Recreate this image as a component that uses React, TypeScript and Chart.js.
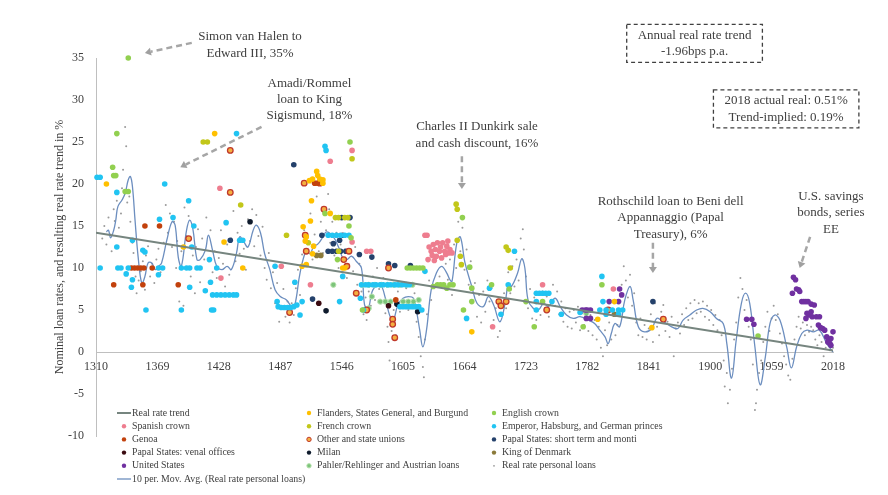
import { useEffect, useRef } from "react";
import { Chart, registerables } from "chart.js";

Chart.register(...registerables);

type Pt = [number, number];

const xTicks = [1310, 1369, 1428, 1487, 1546, 1605, 1664, 1723, 1782, 1841, 1900, 1959, 2018];
const yTitle = "Nominal loan rates, and resulting real rate trend in %";

const trendLine: Pt[] = [[1310, 14.2], [2018, 0.19]];

const flanders: Pt[] = [
  [1424, 26], [1320, 20], [1433, 13.1], [1394, 12.5], [1451, 10],
  [1522, 21.5], [1523, 21], [1518, 20.6], [1525, 20.6], [1528, 20.5], [1515, 20.4], [1528, 20.1],
  [1517, 18], [1535, 16.5], [1516, 15.6], [1509, 14.9], [1512, 13.7], [1511, 13.2], [1519, 12.6],
  [1518, 11.7], [1508, 10.2], [1512, 10.4], [1547, 10], [1549, 10],
  [1671, 2.4], [1792, 3.9], [1808, 6], [1844, 2.9],
];

const englishCrown: Pt[] = [
  [1341, 35], [1330, 26], [1326, 22], [1327, 21], [1329, 21], [1338, 19.1], [1341, 19.1],
  [1554, 25], [1530, 16.5], [1553, 15], [1555, 13.6], [1542, 11], [1566, 5],
  [1609, 10], [1612, 10], [1615, 10], [1618, 10], [1621, 10], [1624, 10],
  [1634, 7.8], [1638, 8], [1641, 8], [1644, 8], [1647, 7.6], [1650, 8], [1653, 8],
  [1662, 16], [1669, 10.1], [1671, 7.6], [1671, 6], [1663, 5], [1690, 8], [1707, 7.5],
  [1723, 6], [1739, 6], [1731, 3], [1778, 3], [1796, 8], [1946, 1.9],
];

const spanishCrown: Pt[] = [
  [1429, 19.5], [1430, 8.8], [1556, 24], [1535, 22.7], [1516, 8], [1488, 10.2], [1556, 13.1],
  [1570, 12], [1574, 12],
  [1626, 13.9], [1628, 13.9], [1630, 12.5], [1632, 12], [1633, 11.5], [1634, 12.8], [1636, 12.2],
  [1637, 11.4], [1638, 13], [1640, 12], [1641, 12.5], [1642, 11.2], [1643, 13], [1645, 12],
  [1646, 11.6], [1647, 12.6], [1648, 13.2], [1649, 11.8], [1650, 12.2], [1652, 11.8], [1629, 11],
  [1635, 10.9], [1691, 3], [1739, 8], [1807, 7.5],
];

const frenchCrown: Pt[] = [
  [1413, 25], [1417, 25], [1449, 17.5], [1556, 23],
  [1540, 16], [1543, 16], [1549, 16], [1552, 16], [1493, 13.9], [1514, 13], [1543, 12],
  [1656, 17.6], [1657, 17], [1657, 13.3], [1660, 11.4], [1661, 10.4],
  [1704, 12.5], [1706, 12.1], [1708, 10],
];

const emperor: Pt[] = [
  [1311, 20.8], [1314, 20.8], [1330, 19], [1376, 20], [1399, 18], [1445, 26],
  [1371, 15.8], [1384, 16], [1404, 15], [1435, 15.4], [1448, 13.3], [1451, 13.3], [1402, 12.5],
  [1330, 12.5], [1345, 13.3], [1355, 12.1], [1357, 11.9], [1419, 11],
  [1314, 10], [1331, 10], [1334, 10], [1341, 10], [1370, 10], [1374, 10], [1392, 10], [1397, 10],
  [1400, 10], [1407, 10], [1410, 10], [1426, 10], [1482, 10.2],
  [1339, 9.3], [1370, 9.2], [1420, 8.3], [1345, 8.6], [1344, 7.7], [1400, 7.7], [1415, 7.3],
  [1422, 6.8], [1426, 6.8], [1430, 6.8], [1434, 6.8], [1438, 6.8], [1442, 6.8], [1445, 6.8],
  [1358, 5], [1392, 5], [1421, 5], [1423, 5],
  [1484, 6], [1485, 5.4], [1488, 5.3], [1491, 5.3], [1494, 5.3], [1497, 5.3], [1500, 5.4],
  [1503, 5.6], [1506, 4.4], [1508, 6], [1501, 8.3],
  [1530, 24.5], [1531, 24], [1533, 13.9], [1537, 13.9], [1541, 13.9], [1545, 13.9], [1549, 13.9],
  [1553, 13.9], [1547, 9], [1544, 6], [1564, 6.4], [1567, 5],
  [1565, 8], [1569, 8], [1572, 8], [1576, 8], [1579, 8], [1583, 8], [1586, 8], [1590, 8],
  [1593, 8], [1597, 8], [1600, 8], [1604, 8], [1608, 8], [1611, 8],
  [1602, 5.4], [1605, 5.4], [1608, 5.4], [1611, 5.4], [1614, 5.4], [1617, 5.4], [1620, 5.4],
  [1623, 5], [1626, 9.6],
  [1666, 4], [1688, 7.6], [1699, 4.5], [1706, 8], [1712, 12],
  [1733, 7], [1736, 7], [1739, 7], [1742, 7], [1745, 7], [1733, 6], [1733, 5], [1748, 6],
  [1757, 4.5], [1775, 4.7],
  [1796, 9], [1794, 5], [1800, 5], [1806, 5], [1812, 5], [1816, 5], [1800, 4.5], [1812, 4.5], [1797, 6],
];

const genoa: Pt[] = [
  [1357, 15], [1371, 15], [1344, 10], [1347, 10], [1350, 10], [1353, 10], [1356, 10], [1364, 10],
  [1327, 8], [1355, 8], [1389, 8], [1520, 20.1], [1523, 20.1], [1598, 6.2],
];

const otherUnions: Pt[] = [
  [1439, 24], [1439, 19], [1399, 13.5], [1510, 20.1], [1525, 20.1], [1529, 17], [1511, 13.9],
  [1512, 12], [1553, 12], [1548, 11], [1551, 10.2], [1496, 4.7], [1560, 7], [1570, 5], [1591, 10],
  [1595, 3.9], [1595, 3.3], [1597, 1.7], [1697, 6], [1699, 5.5], [1704, 6], [1743, 5], [1802, 5],
  [1855, 3.9],
];

const papalShort: Pt[] = [
  [1439, 13.3], [1500, 22.3], [1527, 13.9], [1538, 12.9], [1546, 16], [1554, 16], [1547, 13.9],
  [1544, 13.3], [1533, 12], [1537, 12], [1541, 12], [1545, 12], [1550, 12], [1563, 11.6],
  [1575, 11.3], [1518, 6.3], [1591, 10.5], [1597, 10.3], [1612, 10.3], [1845, 6],
];

const papalVenal: Pt[] = [[1524, 5.8], [1591, 5.5]];

const milan: Pt[] = [[1458, 15.5], [1531, 4.9], [1599, 5.7], [1619, 4.8]];

const kingDenmark: Pt[] = [[1522, 11.5], [1526, 11.5], [1808, 4.5]];

const unitedStates: Pt[] = [
  [1777, 5], [1780, 5], [1782, 5], [1785, 5], [1781, 4], [1785, 4], [1813, 7.5], [1815, 6.8],
  [1803, 6], [1812, 6], [1935, 3.9], [1940, 3.9], [1942, 3.3],
  [1980, 8.9], [1982, 8.6], [1979, 7], [1983, 7.5], [1985, 7.4], [1986, 7.2], [1988, 6], [1990, 6],
  [1992, 6], [1994, 6], [1997, 5.7], [2000, 5.6], [1993, 4.6], [1995, 4.4], [1997, 4.8], [1998, 4.2],
  [1992, 4], [2002, 4.2], [2005, 4.2], [2004, 3.2], [2006, 2.9], [2008, 2.8], [2010, 2.6], [2018, 2.4],
  [2012, 1.8], [2013, 1.2], [2014, 1.4], [2016, 1.6], [2015, 1], [2016, 0.8],
];

const pahler: Pt[] = [
  [1538, 8], [1566, 8], [1572, 8], [1578, 8], [1584, 8], [1590, 8], [1596, 8], [1602, 8], [1608, 8],
  [1614, 8], [1583, 6], [1588, 6], [1593, 6], [1605, 6], [1610, 6], [1615, 6], [1620, 6.2],
  [1572, 5.2], [1575, 6.6], [1781, 4.6],
];

const personalLoans: Pt[] = [
  [1316, 13.5], [1318, 15], [1320, 12.8], [1322, 16], [1324, 14], [1325, 12], [1327, 17], [1328, 15.6],
  [1330, 18], [1332, 14.8], [1334, 16.5], [1335, 19.5], [1336, 21.7], [1338, 26.8], [1339, 24.5],
  [1340, 17.8], [1342, 18.5], [1343, 15.5], [1345, 13], [1346, 11.8], [1348, 9], [1349, 7], [1351, 8.5],
  [1353, 9.6], [1355, 10.8], [1357, 7.4], [1358, 11.5], [1360, 12.6], [1362, 9], [1364, 10.5],
  [1366, 8.2], [1368, 11], [1370, 12.3], [1372, 9.5], [1375, 13], [1377, 17.5], [1379, 14.2],
  [1381, 16.5], [1383, 12.5], [1385, 15.5], [1387, 10], [1388, 13.2], [1390, 6], [1392, 12],
  [1394, 5.5], [1395, 17.2], [1397, 13.8], [1399, 16.2], [1401, 9], [1403, 11.5], [1405, 7],
  [1406, 12.5], [1408, 14.6], [1410, 8.3], [1412, 13.5], [1414, 11], [1416, 16], [1418, 10.8],
  [1420, 14.5], [1422, 9.5], [1424, 12], [1426, 8.8], [1428, 11.2], [1430, 14.5], [1432, 10.5],
  [1434, 7.8], [1436, 12.8], [1438, 9.2], [1440, 13.5], [1442, 16.8], [1444, 10.8], [1446, 14.2],
  [1448, 11.7], [1450, 15], [1452, 12.3], [1454, 9.8], [1456, 15.8], [1458, 13.2], [1460, 17],
  [1462, 12.6], [1464, 16.3], [1466, 13.8], [1468, 11.5], [1470, 14.9], [1472, 10], [1474, 8.6],
  [1476, 11.8], [1478, 7.6], [1480, 9.5], [1482, 5.8], [1484, 8.2], [1486, 3.6], [1488, 5.2],
  [1490, 7.5], [1492, 4.2], [1494, 6], [1496, 3.5], [1498, 5.8], [1500, 4.4], [1502, 7.6],
  [1504, 9.8], [1506, 6.8], [1508, 11.6], [1510, 14.5], [1512, 10.5], [1514, 13.2], [1516, 16.5],
  [1518, 11], [1520, 14], [1522, 18.5], [1524, 12], [1526, 15.5], [1528, 11.8], [1530, 17],
  [1531, 14.5], [1533, 18.8], [1534, 17], [1535, 13], [1537, 15.5], [1539, 11.5], [1541, 14.2],
  [1543, 10], [1545, 12.8], [1547, 9.5], [1549, 12.2], [1551, 8.8], [1553, 11.8], [1555, 13.6],
  [1557, 9.6], [1559, 12.5], [1561, 8], [1563, 10.5], [1565, 7.2], [1567, 4.5], [1569, 6.5],
  [1570, 3.8], [1572, 7.2], [1574, 5.5], [1576, 9], [1578, 6.2], [1580, 10], [1582, 7.5],
  [1584, 5.8], [1586, 8.8], [1588, 4.6], [1590, 3], [1591, 1.2], [1592, -1], [1594, 2.5],
  [1596, 5], [1598, 2], [1600, 7.2], [1602, 4.8], [1604, 8], [1606, 5.5], [1608, 7.6], [1610, 5],
  [1612, 8.2], [1614, 5.8], [1616, 7], [1618, 3.6], [1620, 1.8], [1622, -0.5], [1624, -1.8],
  [1625, -3], [1626, 1.5], [1628, 4.5], [1630, 8.5], [1632, 6.2], [1634, 10.8], [1636, 8],
  [1638, 11.5], [1640, 9], [1642, 12], [1644, 7.8], [1646, 10.5], [1648, 8.6], [1650, 11],
  [1652, 6.8], [1654, 12.8], [1656, 10], [1658, 15.5], [1660, 12], [1662, 14.8], [1664, 9.8],
  [1666, 12.2], [1668, 8], [1670, 10.8], [1672, 6], [1674, 8.2], [1676, 4.2], [1678, 6.8],
  [1680, 3.5], [1682, 7.2], [1684, 4.8], [1686, 8.5], [1688, 6], [1690, 7.6], [1692, 3.8],
  [1694, 5.2], [1696, 1.8], [1698, 2.5], [1700, 4.5], [1702, 7], [1704, 5.2], [1706, 9.5],
  [1708, 7], [1710, 10.2], [1712, 7.8], [1714, 11], [1716, 8.5], [1718, 13.5], [1720, 14.6],
  [1721, 12.2], [1723, 9], [1725, 5.2], [1727, 7.5], [1729, 4], [1731, 6.5], [1733, 3.8],
  [1735, 5.8], [1737, 4.4], [1739, 7.2], [1741, 5], [1743, 6.6], [1745, 4.2], [1747, 6.2],
  [1749, 8], [1751, 5.5], [1753, 7.2], [1755, 4.5], [1757, 6], [1759, 3.6], [1761, 5.2], [1763, 3],
  [1765, 4.8], [1767, 2.8], [1769, 5], [1771, 3.5], [1773, 5.4], [1775, 2.6], [1777, 4.6],
  [1779, 3.2], [1781, 5.2], [1783, 2.5], [1785, 4.4], [1787, 2], [1789, 3.8], [1791, 1.5],
  [1793, 3], [1795, 0.5], [1797, -0.5], [1799, 2.6], [1801, 0.8], [1803, 3.5], [1805, 1.5],
  [1807, 4.5], [1809, 2], [1811, 3.2], [1813, 6], [1815, 8], [1817, 10.2], [1819, 8.5],
  [1821, 6.5], [1823, 9.2], [1825, 5.5], [1827, 7], [1829, 3.5], [1831, 2], [1833, 4], [1835, 1.8],
  [1837, 3.2], [1839, 1.5], [1841, 2.8], [1843, 4.5], [1845, 1.2], [1847, 5.8], [1849, 3],
  [1851, 2], [1853, 4.8], [1855, 5.6], [1857, 2.5], [1859, 3.6], [1861, 1.8], [1863, 4.2],
  [1865, -0.5], [1867, 2.8], [1869, 3.5], [1871, 2.2], [1873, 4.5], [1875, 3.2], [1877, 5.2],
  [1879, 3.8], [1881, 5.8], [1883, 4], [1885, 6.2], [1887, 4.6], [1889, 5.8], [1891, 4.8],
  [1893, 6], [1895, 4.2], [1897, 5.5], [1899, 3.8], [1901, 5], [1903, 3.2], [1905, 4.4],
  [1907, 2.6], [1909, 3.8], [1911, 2], [1913, -1], [1914, -4.1], [1916, -2.5], [1917, -6.1],
  [1919, -4.5], [1921, -2], [1923, 1.5], [1925, 3.5], [1927, 6.5], [1929, 8.8], [1931, 7.5],
  [1933, 5], [1935, 6.2], [1937, 3], [1939, 1.5], [1941, -1.5], [1943, -6.9], [1944, -6.1],
  [1945, -4.5], [1947, -2.5], [1949, -1], [1951, 1.2], [1953, 3], [1955, 4.8], [1957, 2.5],
  [1959, 4], [1961, 5.5], [1963, 3.8], [1965, 4.5], [1967, 2.2], [1969, 1], [1971, -0.5],
  [1973, -1.5], [1975, -2.8], [1977, -3.3], [1979, -0.8], [1981, 1.5], [1983, 3], [1985, 4.2],
  [1987, 2.8], [1989, 3.5], [1991, 2], [1993, 3.2], [1995, 2.4], [1997, 3], [1999, 2.6],
  [2001, 1.5], [2003, 0.8], [2005, 2], [2007, 1.2], [2009, -0.5], [2011, 0.5], [2013, 1],
  [2015, 0.2], [2017, 0.8], [2018, 0.51],
];

const movingAvg: Pt[] = [
  [1320, 14.3], [1322, 14.5], [1324, 13.6], [1327, 14.5], [1329, 15.7], [1331, 17.3], [1335, 18.1],
  [1338, 18.9], [1341, 20.5], [1343, 20.9], [1345, 19.7], [1347.5, 15.7], [1350.5, 11.3], [1354, 8.2],
  [1357, 9], [1360, 10.6], [1363.5, 10.6], [1367, 9.8], [1370, 10.2], [1373, 10.6], [1378, 13.3],
  [1383, 15.5], [1386, 15.1], [1389, 11.3], [1392, 10.2], [1397, 14.5], [1400, 15.7], [1403, 14.7],
  [1407, 11], [1410, 11], [1415, 12.1], [1418, 13.9], [1422, 12.1], [1426, 10.2], [1431, 9.8],
  [1436, 10.2], [1440, 9.8], [1445, 11.8], [1448, 13.7], [1452, 13.1], [1456, 12.5], [1461, 14.5],
  [1464, 15.1], [1468, 14.2], [1472, 11.7], [1477, 9.8], [1482, 7.4], [1487, 6.6], [1493, 6.2],
  [1498, 5.4], [1501, 5.6], [1506, 9.4], [1512, 12.1], [1515.5, 11.7], [1519, 12.5], [1523.5, 12.9],
  [1528, 13.7], [1531.5, 14.3], [1538, 13.7], [1543, 12.5], [1547.5, 11.1], [1551, 11], [1555.5, 11.4],
  [1560, 10.8], [1565, 10], [1568, 5.6], [1571.5, 5.2], [1576, 7.4], [1583, 8], [1588, 6.4],
  [1592, 4.4], [1595.5, 3.8], [1600, 5.6], [1605, 6.4], [1610, 6.6], [1615, 6.4], [1618, 4.8],
  [1621, 2.6], [1624, 0.6], [1627.5, 2.6], [1632, 7.4], [1637, 9.4], [1642, 10.2], [1647, 9.4],
  [1650, 8.6], [1652, 8.4], [1656.5, 12.9], [1660, 13.7], [1664.5, 10.6], [1671, 7.8], [1676, 5.8],
  [1682, 5.4], [1687, 6.6], [1692, 5.6], [1698, 3.6], [1703, 5.8], [1706, 8], [1709, 7.8],
  [1715, 9.4], [1719, 11.1], [1722, 10], [1725, 6.2], [1730, 5.2], [1735, 5], [1740, 5.8],
  [1744.5, 5.4], [1751, 6.4], [1756, 5.4], [1762, 4.4], [1768.5, 4], [1775, 4.2], [1783, 3.8],
  [1789, 3.4], [1794, 2.6], [1799, 1.8], [1802, 1], [1805, 2.2], [1808.5, 3.4], [1813, 3],
  [1818, 6.2], [1823, 7.8], [1826, 6.2], [1831, 3], [1837, 2.4], [1844, 2.8], [1848.5, 4],
  [1853, 3.8], [1858, 3.4], [1863, 3], [1869, 2.8], [1874, 3.8], [1880.5, 4.4], [1887, 5],
  [1893, 5.2], [1900, 4.8], [1906, 4], [1912.5, 3.4], [1916, 1], [1920.5, -3.1], [1925, 1.4],
  [1930, 5.8], [1934, 7], [1938, 5.8], [1943, 0.6], [1948, -3.9], [1953, -0.6], [1957.5, 3.4],
  [1962, 4.4], [1967, 3.8], [1973.5, 0.6], [1978, -1.9], [1983, 0.6], [1988, 2.2], [1993, 2.6],
  [1999, 2.4], [2005, 2.6], [2012, 1], [2018, 0],
];

const notes = [
  { lines: ["Simon van Halen to", "Edward III, 35%"], at: [1458, 37.5], from: [1402, 36.8], to: [1357, 35.6] },
  { lines: ["Amadi/Rommel", "loan to King", "Sigismund, 18%"], at: [1515, 32], from: [1469, 26.8], to: [1391, 22] },
  { lines: ["Charles II Dunkirk sale", "and cash discount, 16%"], at: [1676, 26.8], from: [1661.5, 23.3], to: [1661.5, 19.4] },
  { lines: ["Rothschild loan to Beni dell", "Appannaggio (Papal", "Treasury), 6%"], at: [1862, 17.9], from: [1845, 13], to: [1845, 9.4] },
  { lines: ["U.S. savings", "bonds, series", "EE"], at: [2016, 18.5], from: [1996, 13.7], to: [1986, 10] },
];

const boxes = [
  { lines: ["Annual real rate trend", "-1.96bps p.a."], at: [1885, 37.7] },
  { lines: ["2018 actual real: 0.51%", "Trend-implied: 0.19%"], at: [1973, 29.9] },
];

const textColor = "#404040";
const font = "'Liberation Serif', 'Times New Roman', serif";
const legendColumns = [132, 317, 502];
const legendTop = 413;
const legendRow = 13.2;

const pts = (d: Pt[]) => d.map(([x, y]) => ({ x, y }));

const dots = (label: string, data: Pt[], color: string, extra: Record<string, unknown> = {}) => ({
  label,
  data: pts(data),
  backgroundColor: color,
  borderColor: color,
  pointRadius: 2.8,
  pointBorderWidth: 0,
  clip: false,
  order: 2,
  ...extra,
});

const annotationPlugin = {
  id: "notes",
  afterDraw(chart: any) {
    const { ctx, scales } = chart;
    const X = (v: number) => scales.x.getPixelForValue(v);
    const Y = (v: number) => scales.y.getPixelForValue(v);
    ctx.save();
    ctx.font = `13px ${font}`;
    ctx.fillStyle = textColor;
    ctx.textAlign = "center";
    ctx.textBaseline = "middle";
    notes.forEach((n) => {
      n.lines.forEach((t, i) => ctx.fillText(t, X(n.at[0]), Y(n.at[1]) + i * 16.3));
      const x1 = X(n.from[0]), y1 = Y(n.from[1]), x2 = X(n.to[0]), y2 = Y(n.to[1]);
      const ang = Math.atan2(y2 - y1, x2 - x1);
      const hx = x2 - 6 * Math.cos(ang), hy = y2 - 6 * Math.sin(ang);
      ctx.strokeStyle = "#a6a6a6";
      ctx.lineWidth = 2.5;
      ctx.setLineDash([6, 4]);
      ctx.beginPath();
      ctx.moveTo(x1, y1);
      ctx.lineTo(hx, hy);
      ctx.stroke();
      ctx.setLineDash([]);
      ctx.fillStyle = "#a0a0a0";
      ctx.beginPath();
      ctx.moveTo(x2, y2);
      ctx.lineTo(hx + 4 * Math.sin(ang), hy - 4 * Math.cos(ang));
      ctx.lineTo(hx - 4 * Math.sin(ang), hy + 4 * Math.cos(ang));
      ctx.closePath();
      ctx.fill();
      ctx.fillStyle = textColor;
    });
    boxes.forEach((b) => {
      const cx = X(b.at[0]), cy = Y(b.at[1]);
      const w = Math.max(...b.lines.map((t) => ctx.measureText(t).width)) + 22;
      b.lines.forEach((t, i) => ctx.fillText(t, cx, cy + i * 16.5));
      ctx.strokeStyle = "#404040";
      ctx.lineWidth = 1.3;
      ctx.setLineDash([4, 3]);
      ctx.strokeRect(cx - w / 2, cy - 11, w, 38);
      ctx.setLineDash([]);
    });
    ctx.restore();
  },
};

const legendPlugin = {
  id: "gridLegend",
  afterDraw(chart: any) {
    const ctx = chart.ctx;
    ctx.save();
    ctx.font = `9.8px ${font}`;
    ctx.textBaseline = "middle";
    ctx.textAlign = "left";
    chart.data.datasets.forEach((ds: any, i: number) => {
      const tx = legendColumns[i % 3];
      const ty = legendTop + Math.floor(i / 3) * legendRow;
      if (ds.showLine) {
        ctx.strokeStyle = ds.borderColor;
        ctx.lineWidth = ds.borderWidth;
        ctx.beginPath();
        ctx.moveTo(tx - 15, ty);
        ctx.lineTo(tx - 1, ty);
        ctx.stroke();
      } else {
        const r = ds.pointRadius < 2 ? 0.9 : 2.2;
        ctx.fillStyle = ds.backgroundColor;
        ctx.beginPath();
        ctx.arc(tx - 8, ty, r, 0, Math.PI * 2);
        ctx.fill();
        if (ds.pointBorderWidth > 0) {
          ctx.strokeStyle = ds.borderColor;
          ctx.lineWidth = 1;
          ctx.stroke();
        }
      }
      ctx.fillStyle = textColor;
      ctx.fillText(ds.label, tx, ty);
    });
    ctx.restore();
  },
};

export default function App() {
  const canvasRef = useRef<HTMLCanvasElement>(null);

  useEffect(() => {
    if (!canvasRef.current) return;
    Chart.defaults.font.family = font;
    const chart = new Chart(canvasRef.current, {
      type: "scatter",
      data: {
        datasets: [
          { label: "Real rate trend", data: pts(trendLine), showLine: true, borderColor: "#76857f", backgroundColor: "#76857f", borderWidth: 2, pointRadius: 0, order: 0 },
          dots("Flanders, States General, and Burgund", flanders, "#ffc000"),
          dots("English crown", englishCrown, "#92d050"),
          dots("Spanish crown", spanishCrown, "#ee7d8f"),
          dots("French crown", frenchCrown, "#c2c71a"),
          dots("Emperor, Habsburg, and German princes", emperor, "#21c4f2"),
          dots("Genoa", genoa, "#c2410c"),
          dots("Other and state unions", otherUnions, "#f5b041", { borderColor: "#c0392b", pointBorderWidth: 1.3 }),
          dots("Papal States: short term and monti", papalShort, "#24416b"),
          dots("Papal States: venal offices", papalVenal, "#3a0a10"),
          dots("Milan", milan, "#0f1b2d"),
          dots("King of Denmark", kingDenmark, "#8b7a3a"),
          dots("United States", unitedStates, "#7030a0"),
          dots("Pahler/Rehlinger and Austrian loans", pahler, "#7cc47a", { borderColor: "#b9e2b0", pointBorderWidth: 1, pointRadius: 2.6 }),
          dots("Real rate personal loans", personalLoans, "#9a9a9a", { pointRadius: 1, order: 4 }),
          { label: "10 per. Mov. Avg. (Real rate personal loans)", data: pts(movingAvg), showLine: true, borderColor: "#6c8ebf", backgroundColor: "#6c8ebf", borderWidth: 1.3, pointRadius: 0, tension: 0.4, clip: false, order: 3 },
        ],
      },
      options: {
        animation: false,
        responsive: true,
        maintainAspectRatio: false,
        events: [],
        layout: { padding: { left: 50, right: 55, top: 58, bottom: 59 } },
        plugins: { legend: { display: false }, tooltip: { enabled: false } },
        scales: {
          x: {
            type: "linear",
            position: { y: 0 },
            min: 1310,
            max: 2018,
            afterBuildTicks: (scale: any) => {
              scale.ticks = xTicks.map((value) => ({ value }));
            },
            ticks: { autoSkip: false, maxRotation: 0, padding: 8, color: textColor, font: { size: 12 }, callback: (v: any) => String(v) },
            grid: { display: false, drawTicks: false },
            border: { color: "#bfbfbf", width: 1 },
          },
          y: {
            min: -10,
            max: 35,
            afterFit: (scale: any) => {
              scale.width = 46;
            },
            ticks: { stepSize: 5, padding: 12, color: textColor, font: { size: 12 } },
            grid: { display: false, drawTicks: false },
            border: { color: "#bfbfbf", width: 1 },
            title: { display: true, text: yTitle, color: textColor, font: { size: 12 }, padding: { top: 3, bottom: 0 } },
          },
        },
      },
      plugins: [annotationPlugin, legendPlugin],
    });
    return () => chart.destroy();
  }, []);

  return (
    <div style={{ position: "absolute", left: 0, top: 0, width: 888, height: 495, background: "#fff" }}>
      <canvas ref={canvasRef} />
    </div>
  );
}
